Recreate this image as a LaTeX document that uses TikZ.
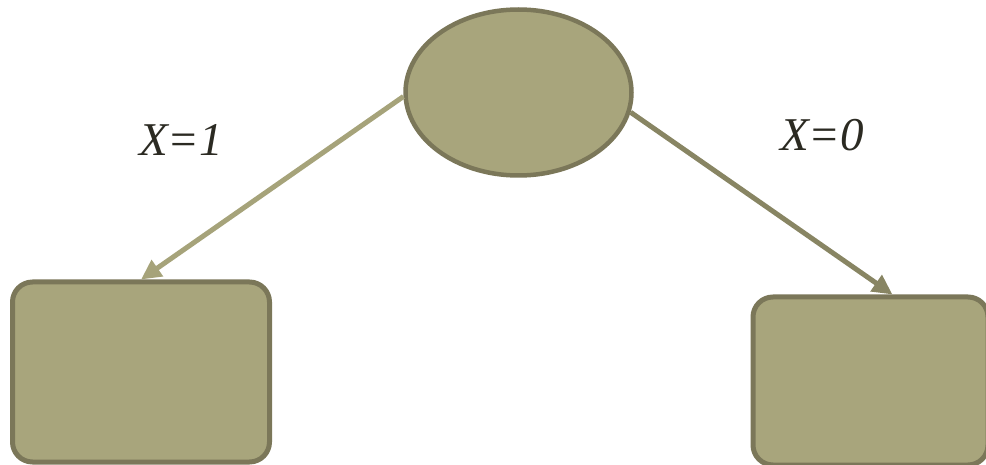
\documentclass[tikz,border=0pt]{standalone}
\usepackage{fontspec}
\setmainfont{Liberation Serif}
\usetikzlibrary{shapes.geometric,arrows.meta}
\definecolor{boxfill}{HTML}{A8A57C}
\definecolor{boxdraw}{HTML}{7B7759}
\definecolor{arrL}{HTML}{A6A37A}
\definecolor{arrR}{HTML}{888563}
\definecolor{txt}{HTML}{2B2A22}
\tikzset{
  nodebase/.style={fill=boxfill, draw=boxdraw, line width=5pt, inner sep=0pt},
  leafbox/.style={nodebase, rectangle, rounded corners=20pt},
  rootell/.style={nodebase, ellipse, line width=4.5pt},
  conn/.style={line width=5pt, -{Triangle[length=20pt,width=19pt]}},
  lbl/.style={font=\fontsize{47}{50}\selectfont\itshape, text=txt, inner sep=0pt}
}
\begin{document}
\begin{tikzpicture}[x=1pt,y=-1pt]
\useasboundingbox (0,0) rectangle (986,465);
\begin{scope}
\clip (0,0) rectangle (986,465);
\node[rootell, minimum width=226pt, minimum height=166pt] (e) at (518.5,92.5) {};
\node[leafbox, minimum width=257pt, minimum height=180pt] (L) at (141,372) {};
\node[leafbox, minimum width=235pt, minimum height=168pt] (R) at (870.5,381) {};
\coordinate (rt) at ([xshift=22pt]R.north);
\draw[conn, color=arrL] (e.182) -- (L.north);
\draw[conn, color=arrR] (e.-10) -- (rt);
\node[lbl] (l1) at (181,140) {X=1};
\node[lbl] (l0) at (822,135) {X=0};
\end{scope}
\end{tikzpicture}
\end{document}
